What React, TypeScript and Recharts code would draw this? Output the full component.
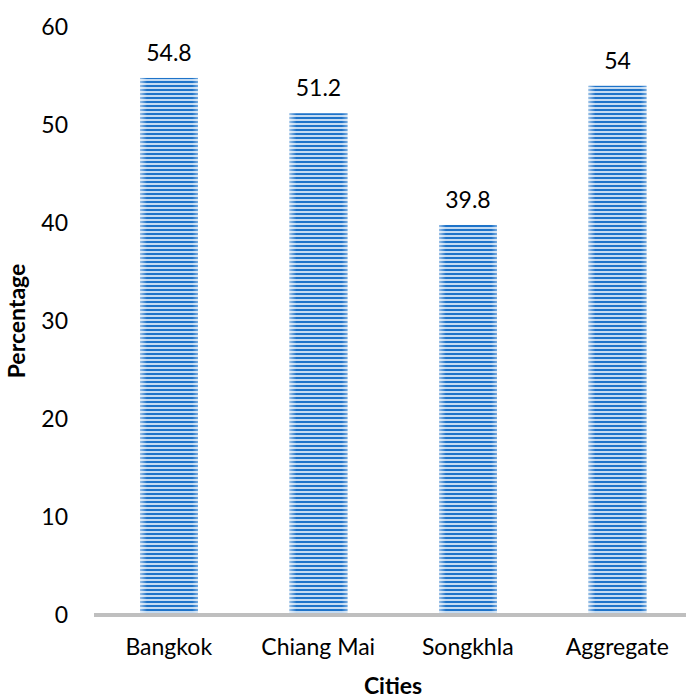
import { BarChart, Bar, XAxis, YAxis, LabelList } from "recharts";

const cities = ["Bangkok", "Chiang Mai", "Songkhla", "Aggregate"];
const percentages = [54.8, 51.2, 39.8, 54];
const yTicks = [0, 10, 20, 30, 40, 50, 60];

const data = cities.map((city, i) => ({ city, value: percentages[i] }));

const FONT = "Lato, 'Open Sans', sans-serif";
const FS = 23;

function StripedBar(props: any) {
  const { x, y, width, height } = props;
  if (!height || height <= 0) return null;
  return (
    <g>
      <rect x={x} y={y} width={width} height={height} fill="url(#stripes)" />
      <rect x={x} y={y} width={width} height={height} fill="url(#edgeGlow)" />
    </g>
  );
}

export default function App() {
  return (
    <div
      style={{
        position: "absolute",
        left: 0,
        top: 0,
        width: 686,
        height: 700,
        overflow: "hidden",
        background: "#fff",
      }}
    >
      <BarChart
        width={700}
        height={700}
        data={data}
        margin={{ top: 27, right: 8, left: 40, bottom: 55 }}
        barSize={58}
      >
        <defs>
          <pattern id="stripes" patternUnits="userSpaceOnUse" width="8" height="4">
            <rect x="0" y="0" width="8" height="4" fill="#c4dbf2" />
            <rect x="0" y="1" width="8" height="2" fill="#1e73c9" />
          </pattern>
          <linearGradient id="edgeGlow" x1="0" y1="0" x2="1" y2="0">
            <stop offset="0" stopColor="#ffffff" stopOpacity={0.55} />
            <stop offset="0.12" stopColor="#ffffff" stopOpacity={0} />
            <stop offset="0.9" stopColor="#ffffff" stopOpacity={0} />
            <stop offset="1" stopColor="#ffffff" stopOpacity={0.4} />
          </linearGradient>
        </defs>
        <XAxis
          dataKey="city"
          axisLine={{ stroke: "#bfbfbf", strokeWidth: 4 }}
          tickLine={false}
          tick={{ fill: "#000", fontSize: FS, fontFamily: FONT }}
          tickMargin={18}
          label={{
            value: "Cities",
            position: "bottom",
            offset: 33,
            fill: "#000",
            fontSize: FS,
            fontWeight: "bold",
            fontFamily: FONT,
          }}
        />
        <YAxis
          domain={[0, 60]}
          ticks={yTicks}
          axisLine={false}
          tickLine={false}
          width={54}
          tickMargin={20}
          tick={{ fill: "#000", fontSize: FS, fontFamily: FONT }}
          label={{
            value: "Percentage",
            angle: -90,
            position: "insideLeft",
            offset: -23,
            style: { textAnchor: "middle" },
            fill: "#000",
            fontSize: FS,
            fontWeight: "bold",
            fontFamily: FONT,
          }}
        />
        <Bar dataKey="value" shape={<StripedBar />} isAnimationActive={false}>
          <LabelList
            dataKey="value"
            position="top"
            offset={17}
            fill="#000"
            fontSize={FS}
            fontFamily={FONT}
          />
        </Bar>
      </BarChart>
    </div>
  );
}
